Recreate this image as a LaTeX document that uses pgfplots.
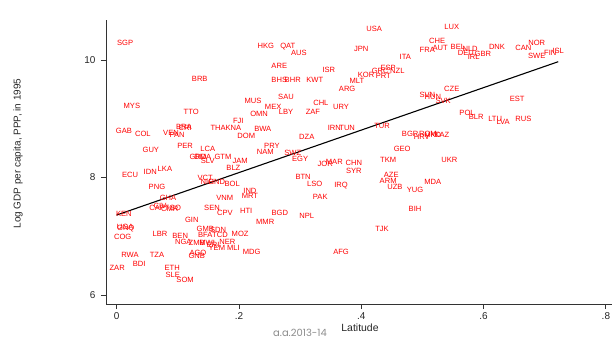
\documentclass[border=0pt]{standalone}
\usepackage{fontspec}
\setmainfont{Liberation Sans}
\newfontfamily\wmfont{Poppins}
\usepackage{pgfplots}
\usepackage{pgfplotstable}
\pgfplotsset{compat=1.18}
\pgfplotstableread{
x y lab
0.014 10.29 SGP
0.244 10.24 HKG
0.280 10.22 QAT
0.298 10.12 AUS
0.421 10.53 USA
0.400 10.19 JPN
0.548 10.56 LUX
0.524 10.32 CHE
0.508 10.17 FRA
0.529 10.20 AUT
0.558 10.22 BEL
0.578 10.19 NLD
0.571 10.12 DEU
0.584 10.05 IRL
0.599 10.10 GBR
0.622 10.22 DNK
0.665 10.20 CAN
0.687 10.29 NOR
0.687 10.07 SWE
0.709 10.12 FIN
0.722 10.15 ISL
0.472 10.05 ITA
0.266 9.90 ARE
0.347 9.83 ISR
0.444 9.86 ESP
0.431 9.81 GRC
0.459 9.81 NZL
0.408 9.74 KOR
0.436 9.73 PRT
0.393 9.64 MLT
0.136 9.68 BRB
0.266 9.66 BHS
0.288 9.66 BHR
0.324 9.66 KWT
0.377 9.51 ARG
0.277 9.37 SAU
0.223 9.30 MUS
0.256 9.20 MEX
0.334 9.27 CHL
0.367 9.20 URY
0.025 9.22 MYS
0.122 9.11 TTO
0.233 9.08 OMN
0.277 9.11 LBY
0.321 9.11 ZAF
0.508 9.40 SVN
0.517 9.37 HUN
0.548 9.51 CZE
0.534 9.30 SVK
0.655 9.34 EST
0.573 9.10 POL
0.588 9.03 BLR
0.619 9.00 LTU
0.632 8.94 LVA
0.665 9.00 RUS
0.199 8.96 FJI
0.166 8.84 THA
0.191 8.84 KNA
0.239 8.83 BWA
0.012 8.79 GAB
0.043 8.74 COL
0.089 8.76 VEN
0.110 8.86 BRA
0.112 8.84 CRI
0.099 8.72 PAN
0.356 8.84 IRN
0.377 8.84 TUN
0.434 8.88 TUR
0.212 8.71 DOM
0.311 8.69 DZA
0.480 8.74 BGR
0.509 8.74 ROM
0.499 8.69 HRV
0.517 8.72 MKD
0.532 8.72 KAZ
0.112 8.54 PER
0.149 8.49 LCA
0.056 8.47 GUY
0.133 8.35 GRD
0.141 8.35 DMA
0.174 8.35 GTM
0.149 8.28 SLV
0.254 8.54 PRY
0.243 8.43 NAM
0.202 8.28 JAM
0.467 8.49 GEO
0.288 8.42 SWZ
0.300 8.31 EGY
0.356 8.26 MAR
0.341 8.23 JOR
0.388 8.25 CHN
0.444 8.30 TKM
0.544 8.30 UKR
0.388 8.11 SYR
0.191 8.16 BLZ
0.022 8.04 ECU
0.055 8.09 IDN
0.079 8.14 LKA
0.305 8.01 BTN
0.449 8.04 AZE
0.444 7.94 ARM
0.455 7.84 UZB
0.488 7.79 YUG
0.517 7.92 MDA
0.145 7.99 VCT
0.148 7.92 NIC
0.164 7.92 HND
0.189 7.89 BOL
0.324 7.89 LSO
0.367 7.86 IRQ
0.066 7.84 PNG
0.333 7.67 PAK
0.218 7.77 IND
0.218 7.69 MRT
0.177 7.65 VNM
0.084 7.65 GHA
0.066 7.48 CAF
0.071 7.51 CIV
0.087 7.46 CMR
0.092 7.48 TGO
0.156 7.48 SEN
0.177 7.40 CPV
0.212 7.43 HTI
0.243 7.24 MMR
0.012 7.38 KEN
0.123 7.28 GIN
0.014 7.16 UGA
0.015 7.13 GNQ
0.010 6.99 COG
0.145 7.12 GMB
0.166 7.11 SDN
0.071 7.04 LBR
0.104 7.00 BEN
0.145 7.02 BFA
0.169 7.02 TCD
0.202 7.04 MOZ
0.109 6.90 NGA
0.131 6.89 ZMB
0.148 6.89 MWI
0.181 6.90 NER
0.158 6.85 ERI
0.164 6.80 YEM
0.191 6.80 MLI
0.133 6.71 AGO
0.131 6.66 GNB
0.221 6.73 MDG
0.022 6.68 RWA
0.066 6.68 TZA
0.001 6.46 ZAR
0.037 6.53 BDI
0.091 6.46 ETH
0.092 6.34 SLE
0.112 6.26 SOM
0.267 7.40 BGD
0.311 7.34 NPL
0.434 7.12 TJK
0.367 6.73 AFG
0.488 7.46 BIH
}\ctry
\begin{document}
\begin{tikzpicture}
\path[use as bounding box] (-106bp,-36bp) rectangle (506bp,304bp);
\begin{axis}[
  at={(0,0)}, anchor=south west,
  scale only axis, width=506bp, height=284bp,
  xmin=-0.0173, xmax=0.810, ymin=5.847, ymax=10.68,
  axis x line*=bottom, axis y line*=left,
  axis line style={black!80, line width=0.8bp, -},
  xtick={0,0.2,0.4,0.6,0.8}, xticklabels={0,.2,.4,.6,.8},
  ytick={6,8,10}, yticklabels={6,8,10},
  tick align=outside, major tick length=5bp,
  tick style={black!80, line width=0.8bp},
  ticklabel style={font=\fontsize{10}{12}\selectfont, text=black!85},
  yticklabel style={xshift=-2bp},
  /pgf/number format/assume math mode=true,
  clip=false,
]
\addplot[draw=none, mark=none, nodes near coords, point meta=explicit symbolic,
  nodes near coords style={anchor=center, inner sep=0pt, text=red, font=\fontsize{7.6}{8}\selectfont}]
  table[x=x, y=y, meta=lab] {\ctry};
\addplot[black, line width=1.1bp] coordinates {(0,7.36) (0.722,9.97)};
\end{axis}
\node[font=\fontsize{10.5}{12}\selectfont, text=black!85] at (254bp,-24bp) {Latitude};
\node[font=\fontsize{10}{12}\selectfont, text=black!85, rotate=90] at (-88bp,150.5bp) {Log GDP per capita, PPP, in 1995};
\node[font=\wmfont\fontsize{10}{12}\selectfont, text=black!45] at (194bp,-29bp) {a.a.2013-14};
\end{tikzpicture}
\end{document}
